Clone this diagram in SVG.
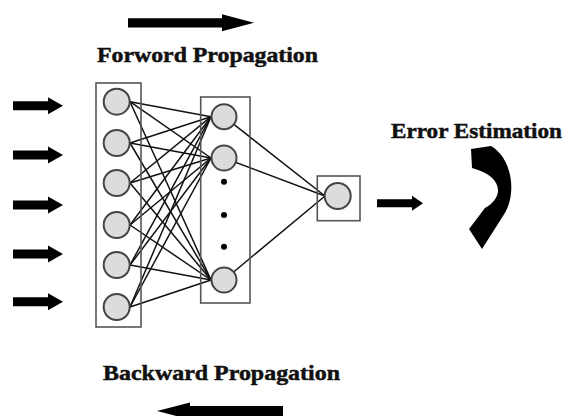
<svg xmlns="http://www.w3.org/2000/svg" width="566" height="416" viewBox="0 0 566 416">
<style>
.lbl{font-family:"Liberation Serif","Times New Roman",serif;font-weight:bold;font-size:22px;fill:#111;stroke:#111;stroke-width:0.5}
.box{fill:none;stroke:#555;stroke-width:1.6}
.nd{fill:#dcdcdc;stroke:#444;stroke-width:2}
.ln{stroke:#111;stroke-width:1.5;fill:none}
.arr{fill:#000}
</style>
<defs>
<path id="inarr" d="M0,-4.5 H35 V-8.5 L50,0 L35,8.5 V4.5 H0 Z"/>
</defs>
<rect width="566" height="416" fill="#fff"/>

<g id="forward-arrow"><path class="arr" d="M128,18.2 H222 V14.3 L254,22.7 L222,31.3 V27.4 H128 Z"/></g>
<g id="forward-label"><text class="lbl" x="97" y="62" textLength="221" lengthAdjust="spacingAndGlyphs">Forword Propagation</text></g>

<g id="input-arrows" class="arr">
<use href="#inarr" x="13" y="105.7"/>
<use href="#inarr" x="13" y="155"/>
<use href="#inarr" x="13" y="205"/>
<use href="#inarr" x="13" y="254"/>
<use href="#inarr" x="13" y="301.7"/>
</g>

<g id="connectors" class="ln">
<line x1="130" y1="101.7" x2="211" y2="116.7"/><line x1="130" y1="101.7" x2="211" y2="158"/><line x1="130" y1="101.7" x2="211" y2="280"/>
<line x1="130" y1="143" x2="211" y2="116.7"/><line x1="130" y1="143" x2="211" y2="158"/><line x1="130" y1="143" x2="211" y2="280"/>
<line x1="130" y1="183" x2="211" y2="116.7"/><line x1="130" y1="183" x2="211" y2="158"/><line x1="130" y1="183" x2="211" y2="280"/>
<line x1="130" y1="225" x2="211" y2="116.7"/><line x1="130" y1="225" x2="211" y2="158"/><line x1="130" y1="225" x2="211" y2="280"/>
<line x1="130" y1="265" x2="211" y2="116.7"/><line x1="130" y1="265" x2="211" y2="158"/><line x1="130" y1="265" x2="211" y2="280"/>
<line x1="130" y1="307" x2="211" y2="116.7"/><line x1="130" y1="307" x2="211" y2="158"/><line x1="130" y1="307" x2="211" y2="280"/>
<line x1="224" y1="116.7" x2="325" y2="196"/>
<line x1="224" y1="158" x2="325" y2="196"/>
<line x1="224" y1="280" x2="325" y2="196"/>
</g>

<g id="input-layer">
<rect class="box" x="96" y="83" width="45" height="244"/>
<circle class="nd" cx="116.7" cy="101.7" r="13"/>
<circle class="nd" cx="116.7" cy="143" r="13"/>
<circle class="nd" cx="116.7" cy="183" r="13"/>
<circle class="nd" cx="116.7" cy="225" r="13"/>
<circle class="nd" cx="116.7" cy="265" r="13"/>
<circle class="nd" cx="116.7" cy="307" r="13"/>
</g>

<g id="hidden-layer">
<rect class="box" x="200.7" y="97" width="49.3" height="206"/>
<circle class="nd" cx="224" cy="116.7" r="12.5"/>
<circle class="nd" cx="224" cy="158" r="12.5"/>
<circle cx="224" cy="181.7" r="3" fill="#000"/>
<circle cx="224" cy="215" r="3" fill="#000"/>
<circle cx="224" cy="246.7" r="3" fill="#000"/>
<circle class="nd" cx="224" cy="280" r="12.5"/>
</g>

<g id="output-layer">
<rect class="box" x="317.3" y="176" width="42.7" height="44.7"/>
<circle class="nd" cx="337.7" cy="196" r="13"/>
</g>

<g id="output-arrow"><path class="arr" d="M377,199.3 H412 V195.8 L423,203.3 L412,210.8 V207.3 H377 Z"/></g>

<g id="error-estimation">
<text class="lbl" x="391" y="138" textLength="171" lengthAdjust="spacingAndGlyphs">Error Estimation</text>
<path class="arr" d="M471,149 L491,146 C512,158 518,194 503,216 L482,249 L469,229 L485,208 C505,197 503,176 472,168 Z"/>
</g>

<g id="backward-label"><text class="lbl" x="103" y="380" textLength="237" lengthAdjust="spacingAndGlyphs">Backward Propagation</text></g>
<g id="backward-arrow"><path class="arr" d="M283,406 H190 V402.5 L157,411 L190,419.5 V416 H283 Z"/></g>
</svg>
